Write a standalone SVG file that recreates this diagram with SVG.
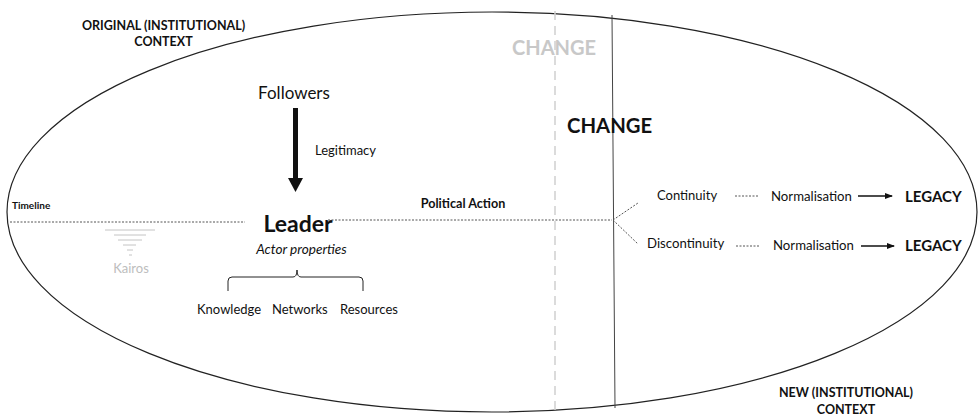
<svg xmlns="http://www.w3.org/2000/svg" width="978" height="419" viewBox="0 0 978 419">
  <style>
    text { font-family: Lato, "Open Sans", "Liberation Sans", sans-serif; fill: #111; }
    .b { font-weight: bold; }
    .ctx { font-size: 12.5px; font-weight: bold; text-anchor: middle; }
    .dot { stroke: #555; stroke-width: 1; stroke-dasharray: 2 1.5; fill: none; }
    .thin { stroke: #222; stroke-width: 1; fill: none; }
    .arr { stroke: #111; stroke-width: 1.4; fill: none; }
  </style>
  <defs>
    <marker id="head" markerWidth="8" markerHeight="6" refX="7" refY="3" orient="auto" markerUnits="userSpaceOnUse">
      <path d="M0,0 L8,3 L0,6 Z" fill="#111"/>
    </marker>
  </defs>
  <rect width="978" height="419" fill="#fff"/>

  <!-- context boundary -->
  <ellipse cx="492" cy="212" rx="485" ry="200" fill="none" stroke="#222" stroke-width="1.2"/>

  <!-- moments of change -->
  <line x1="555" y1="11" x2="555" y2="411" stroke="#d0d0d0" stroke-width="1.5" stroke-dasharray="9 6"/>
  <line x1="612" y1="15" x2="615" y2="408" stroke="#444" stroke-width="1"/>

  <g id="contexts">
    <text class="ctx" x="163.5" y="30">ORIGINAL (INSTITUTIONAL)</text>
    <text class="ctx" x="163.5" y="46">CONTEXT</text>
    <text class="ctx" x="846" y="397">NEW (INSTITUTIONAL)</text>
    <text class="ctx" x="846" y="414">CONTEXT</text>
  </g>

  <g id="change-old"><text class="b" x="512" y="55" font-size="20" style="fill:#c8c8c8">CHANGE</text></g>
  <g id="change-new"><text class="b" x="567" y="133" font-size="20.3">CHANGE</text></g>

  <g id="followers"><text x="294" y="99" font-size="17" text-anchor="middle">Followers</text></g>
  <g id="timeline-label"><text class="b" x="12" y="209" font-size="10">Timeline</text></g>
  <g id="leader">
    <text class="b" x="298" y="232" font-size="23" text-anchor="middle">Leader</text>
    <text x="301.5" y="254" font-size="13.6" font-style="italic" text-anchor="middle">Actor properties</text>
  </g>
  <g id="properties">
    <text x="197" y="314" font-size="13">Knowledge</text>
    <text x="272" y="314" font-size="13">Networks</text>
    <text x="340" y="314" font-size="13">Resources</text>
  </g>
  <g id="kairos">
    <g stroke="#c4c4c4" stroke-width="1">
      <line x1="105" y1="230" x2="155" y2="230"/>
      <line x1="114" y1="235" x2="146" y2="235"/>
      <line x1="118" y1="240" x2="142" y2="240"/>
      <line x1="123" y1="245" x2="136" y2="245"/>
      <line x1="127" y1="250" x2="133" y2="250"/>
      <line x1="129" y1="255" x2="132" y2="255"/>
    </g>
    <text x="131" y="273" font-size="13" text-anchor="middle" style="fill:#bdbdbd">Kairos</text>
  </g>
  <g id="political-action"><text class="b" x="463" y="208" font-size="12.6" text-anchor="middle">Political Action</text></g>
  <g id="continuity">
    <text x="657" y="200" font-size="13">Continuity</text>
    <text x="771" y="201" font-size="13.2">Normalisation</text>
    <text class="b" x="905" y="202" font-size="15">LEGACY</text>
  </g>
  <g id="discontinuity">
    <text x="647" y="248" font-size="13.2">Discontinuity</text>
    <text x="773" y="250" font-size="13.2">Normalisation</text>
    <text class="b" x="905" y="251" font-size="15">LEGACY</text>
  </g>

  <g id="connectors">
    <!-- legitimacy arrow -->
    <line x1="295.5" y1="108" x2="295.5" y2="179" stroke="#111" stroke-width="5"/>
    <path d="M288,178 L303,178 L295.5,192 Z" fill="#111"/>
    <text x="315" y="155" font-size="13">Legitimacy</text>
    <!-- timeline -->
    <line class="dot" x1="10" y1="222" x2="245" y2="222"/>
    <line class="dot" x1="328" y1="220" x2="612" y2="220"/>
    <!-- fork -->
    <line class="dot" x1="613" y1="220" x2="638" y2="203"/>
    <line class="dot" x1="613" y1="220" x2="638" y2="244"/>
    <line class="dot" x1="735" y1="196" x2="758" y2="196"/>
    <line class="dot" x1="736" y1="246" x2="760" y2="246"/>
    <line class="arr" x1="858" y1="196" x2="892" y2="196" marker-end="url(#head)"/>
    <line class="arr" x1="861" y1="246" x2="894" y2="246" marker-end="url(#head)"/>
    <!-- brace -->
    <path class="thin" d="M228,291 L228,281 Q228,277 232,277 L293,277 Q297,277 297,270 Q297,277 301,277 L359,277 Q363,277 363,281 L363,291"/>
  </g>
</svg>
